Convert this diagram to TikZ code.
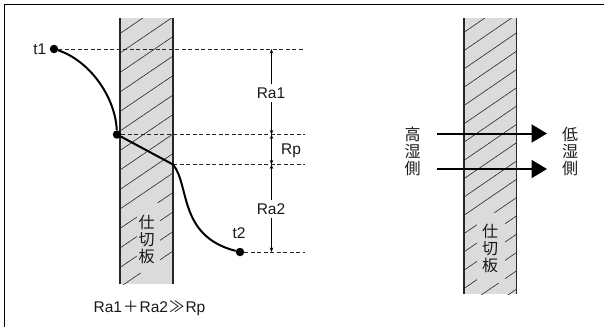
\documentclass[tikz,border=0pt]{standalone}
\usepackage{fontspec}
\setmainfont{Liberation Sans}
\newfontfamily\cjk{Noto Sans CJK JP}
\usepackage{pgf, tikz}
\usetikzlibrary{positioning, arrows.meta}
\definecolor{wallgray}{gray}{0.86}
\tikzset{
    wallfill/.style={
        fill=wallgray,
        draw=none
    },
    walledge/.style={
        draw=black!85,
        line width=1.3pt
    },
    hatchline/.style={
        draw=black!85,
        line width=0.6pt
    },
    dashline/.style={
        draw=black!85,
        dash pattern=on 4pt off 2.5pt,
        line width=0.7pt
    },
    dimline/.style={
        draw=black,
        line width=0.7pt
    },
    dimboth/.style={
        dimline,
        {Stealth[length=4.5pt,width=3.5pt]}-{Stealth[length=4.5pt,width=3.5pt]}
    },
    dimend/.style={
        dimline,
        -{Stealth[length=4.5pt,width=3.5pt]}
    },
    curveline/.style={
        draw=black,
        line width=2pt
    },
    flowline/.style={
        draw=black,
        line width=2pt,
        -{Triangle[length=15.5pt,width=18pt]}
    },
    pointnode/.style={
        circle,
        fill=black,
        minimum size=8.5pt,
        inner sep=0
    },
    lbl/.style={
        inner sep=0,
        font=\fontsize{15.5}{16}\selectfont,
        text=black!90
    },
    vlbl/.style={
        inner sep=0,
        align=center,
        font=\cjk\fontsize{16}{17}\selectfont,
        text=black!90
    }
}
\begin{document}
\begin{tikzpicture}[x=1pt,y=-1pt]
    \useasboundingbox (0,0) rectangle (604,327);
    % frame
    \draw[line width=1.2pt] (4.5,327) -- (4.5,4.5) -- (604,4.5);
    % left wall
    \fill[wallfill] (120,18) rectangle (173,284);
    \begin{scope}
        \clip (120,18) rectangle (173,284);
        \foreach \y in {33.5,53,...,306} {
            \draw[hatchline] (120,\y) -- (173,\y-36);
        }
    \end{scope}
    \fill[wallfill] (137,203) rectangle (160,273);
    \draw[walledge] (120,18) -- (120,284);
    \draw[walledge] (173,18) -- (173,284);
    % right wall
    \fill[wallfill] (464,18) rectangle (516.5,294);
    \begin{scope}
        \clip (464,18) rectangle (516.5,294);
        \foreach \y in {32.3,50.6,...,330} {
            \draw[hatchline] (464,\y) -- (516.5,\y-36);
        }
    \end{scope}
    \fill[wallfill] (477,213) rectangle (505,283);
    \draw[walledge] (464,18) -- (464,294);
    \draw[walledge] (516.5,18) -- (516.5,294);
    % points
    \node[pointnode] (pa) at (54,49) {};
    \node[pointnode] (pb) at (117,134.5) {};
    \coordinate (pc) at (173,164.5);
    \node[pointnode] (pd) at (240,252) {};
    \node[lbl, left=3pt of pa] (ta) {t1};
    \node[lbl] (tb) at (239,233) {t2};
    % levels
    \coordinate (ea) at (305,49);
    \coordinate (eb) at (305,134.5);
    \coordinate (ec) at (305,164.5);
    \coordinate (ed) at (305,252);
    \draw[dashline] (pa) -- (ea);
    \draw[dashline] (pb) -- (eb);
    \draw[dashline] (pc) -- (ec);
    \draw[dashline] (pd) -- (ed);
    % curve
    \draw[curveline] (pa) .. controls (88,60) and (115,95) .. (pb);
    \draw[curveline] (pb) -- (pc);
    \draw[curveline] (pc) .. controls (190,185) and (178,236) .. (pd);
    % dimensions
    \node[lbl] (raa) at (271,93) {Ra1};
    \node[lbl] (rp) at (291,151) {Rp};
    \node[lbl] (rab) at (271,209) {Ra2};
    \coordinate (da) at (271.5,49);
    \coordinate (db) at (271.5,134.5);
    \coordinate (dc) at (271.5,164.5);
    \coordinate (dd) at (271.5,252);
    \draw[dimend] (raa.north -| da) ++(0,-3) -- (da);
    \draw[dimend] (raa.south -| da) ++(0,3) -- (db);
    \draw[dimboth] (db) -- (dc);
    \draw[dimend] (rab.north -| dc) ++(0,-3) -- (dc);
    \draw[dimend] (rab.south -| dd) ++(0,3) -- (dd);
    \node[lbl] (formula) at (149.5,308) {Ra1\kern1pt{\cjk ＋}\kern1ptRa2\kern1pt{\cjk ≫}\kern1ptRp};
    % labels
    \node[vlbl] (wa) at (146.5,239) {仕\\切\\板};
    \node[vlbl] (wb) at (490,248) {仕\\切\\板};
    \node[vlbl] (high) at (412.5,151) {高\\湿\\側};
    \node[vlbl] (low) at (570,151) {低\\湿\\側};
    % flows
    \coordinate (fa) at (437,133.5);
    \coordinate (fb) at (547,133.5);
    \coordinate (fc) at (437,169);
    \coordinate (fd) at (547,169);
    \draw[flowline] (fa) -- (fb);
    \draw[flowline] (fc) -- (fd);
\end{tikzpicture}
\end{document}
